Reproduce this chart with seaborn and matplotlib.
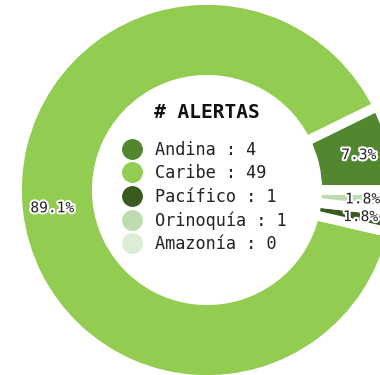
import matplotlib
matplotlib.use("Agg")
import matplotlib.pyplot as plt
import matplotlib.patheffects as pe
from matplotlib.lines import Line2D
import seaborn as sns

# Alert counts per natural region
regiones = ["Andina", "Caribe", "Pacífico", "Orinoquía", "Amazonía"]
alertas = [4, 49, 1, 1, 0]
colores = ["#52872f", "#92cc50", "#3a5a1e", "#bedcaf", "#dcedd4"]

sns.set_theme(style="white")
plt.rcParams["font.family"] = ["DejaVu Sans Mono", "DejaVu Sans"]
palette = sns.color_palette(colores)

fig = plt.figure(figsize=(3.8, 3.75), dpi=100)
ax = fig.add_axes([0, 0, 1, 1])

R_PX = 190.0  # pixels per unit radius
cx, cy = 207.0, 185.0  # donut centre measured from left / bottom edge


def fmt_pct(p):
    return f"{p:.1f}%" if p > 0 else ""


wedges, _, autotexts = ax.pie(
    alertas,
    colors=palette,
    startangle=0,
    counterclock=True,
    radius=1.0,
    autopct=fmt_pct,
    pctdistance=0.82,
    wedgeprops=dict(width=0.42, edgecolor="white", linewidth=7),
    textprops=dict(fontsize=10.5, color="#222222", family="DejaVu Sans Mono"),
)
for t in autotexts:
    t.set_path_effects([pe.withStroke(linewidth=3, foreground="white")])

ax.set_xlim(-cx / R_PX, (380 - cx) / R_PX)
ax.set_ylim(-cy / R_PX, (375 - cy) / R_PX)
ax.set_aspect("equal")
ax.axis("off")

# Centre legend
ax.text(0, (375 - 112 - cy) / R_PX, "# ALERTAS", ha="center", va="center",
        fontsize=14, fontweight="bold", color="#111111",
        family="DejaVu Sans Mono")

handles = [Line2D([], [], marker="o", linestyle="", markersize=14,
                  markerfacecolor=c, markeredgecolor=c) for c in palette]
labels = [f"{r} : {n}" for r, n in zip(regiones, alertas)]
fig.legend(handles, labels, loc="upper left",
           bbox_to_anchor=(124 / 380, 1 - 141 / 375),
           frameon=False, borderpad=0, borderaxespad=0,
           handlelength=1.0, handletextpad=0.85, labelspacing=0.32,
           prop=dict(family="DejaVu Sans Mono", size=12.2),
           labelcolor="#222222")

fig.savefig("out.png", dpi=100, facecolor="white")
